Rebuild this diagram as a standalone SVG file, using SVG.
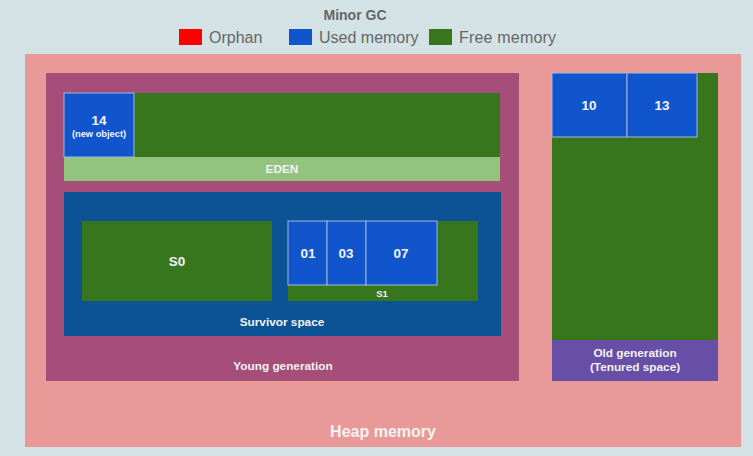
<svg xmlns="http://www.w3.org/2000/svg" width="753" height="456" viewBox="0 0 753 456">
<style>
.t{font-family:"Liberation Sans",Arial,sans-serif;font-weight:bold;fill:#f3f3f3;text-anchor:middle}
.lg{font-family:"Liberation Sans",Arial,sans-serif;font-size:16px;fill:#666666}
.obj{fill:#1155cc;stroke:#9fb8e0;stroke-width:1}
.free{fill:#38761d}
.lbl{font-size:11.8px}
.num{font-size:13.5px}
</style>
<rect x="0" y="0" width="753" height="456" fill="#d3e2e5"/>
<g id="legend">
<text x="355" y="20" class="t" style="fill:#666666;font-size:14px">Minor GC</text>
<rect x="179" y="29" width="23" height="16" fill="#ff0000"/>
<text x="209" y="43" class="lg">Orphan</text>
<rect x="289" y="29" width="23" height="16" fill="#1155cc"/>
<text x="319" y="43" class="lg">Used memory</text>
<rect x="429" y="29" width="23" height="16" fill="#38761d"/>
<text x="459" y="43" class="lg" textLength="97">Free memory</text>
</g>
<g id="heap">
<rect x="25" y="54" width="716" height="393" fill="#ea9999"/>
<text x="383" y="437" class="t" style="font-size:16px">Heap memory</text>
</g>
<g id="young">
<rect x="46" y="73" width="473" height="308" fill="#a64d79"/>
<text x="283" y="370" class="t lbl">Young generation</text>
</g>
<g id="eden">
<rect x="64" y="93" width="436" height="64" class="free"/>
<rect x="64" y="157" width="436" height="24" fill="#93c47d"/>
<text x="282" y="173" class="t lbl">EDEN</text>
</g>
<g id="obj14">
<rect x="64" y="93" width="70" height="64" class="obj"/>
<text x="99" y="125" class="t num">14</text>
<text x="99" y="137" class="t" style="font-size:9.3px">(new object)</text>
</g>
<g id="survivor">
<rect x="64" y="192" width="437" height="144" fill="#0b5394"/>
<text x="282" y="326" class="t lbl">Survivor space</text>
</g>
<g id="s0">
<rect x="82" y="221" width="190" height="80" class="free"/>
<text x="177" y="266" class="t num">S0</text>
</g>
<g id="s1">
<rect x="288" y="221" width="190" height="80" class="free"/>
<text x="382" y="297" class="t" style="font-size:9.5px">S1</text>
</g>
<g id="obj01">
<rect x="288" y="221" width="39" height="64" class="obj"/>
<text x="308" y="258" class="t num">01</text>
</g>
<g id="obj03">
<rect x="327" y="221" width="39" height="64" class="obj"/>
<text x="346" y="258" class="t num">03</text>
</g>
<g id="obj07">
<rect x="366" y="221" width="71" height="64" class="obj"/>
<text x="401" y="258" class="t num">07</text>
</g>
<g id="old">
<rect x="552" y="73" width="166" height="267" class="free"/>
<rect x="552" y="340" width="166" height="41" fill="#674ea7"/>
<text x="635" y="357" class="t lbl">Old generation</text>
<text x="635" y="371" class="t lbl">(Tenured space)</text>
</g>
<g id="obj10">
<rect x="552" y="73" width="75" height="64" class="obj"/>
<text x="589" y="110" class="t num">10</text>
</g>
<g id="obj13">
<rect x="627" y="73" width="70" height="64" class="obj"/>
<text x="662" y="110" class="t num">13</text>
</g>
<g id="connectors"></g>
</svg>
